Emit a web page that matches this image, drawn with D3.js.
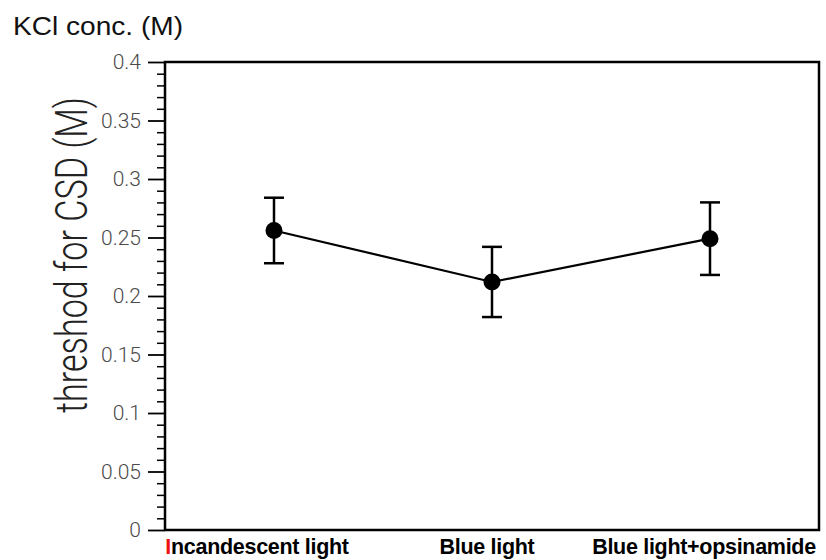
<!DOCTYPE html>
<html>
<head>
<meta charset="utf-8">
<script src="https://cdn.jsdelivr.net/npm/d3@7"></script>
<style>
  body { margin: 0; background: #fff; }
  svg { display: block; }
</style>
</head>
<body>
<div id="svganchor"></div>
<script>
let width = 826, height = 560;

let margin = ({top: 62, right: 7, bottom: 30, left: 165});

// data
let groups = ["Incandescent light", "Blue light", "Blue light+opsinamide"];
let means = [0.256, 0.212, 0.249];
let errors = [0.028, 0.030, 0.031];
let yTickValues = [0, 0.05, 0.1, 0.15, 0.2, 0.25, 0.3, 0.35, 0.4];

let dataSet = groups.map(function(g, i) {
    return {group: g, mean: means[i], err: errors[i]};
});

let xScale = d3.scalePoint()
    .domain(groups)
    .range([margin.left, width - margin.right])
    .padding(0.5);

let yScale = d3.scaleLinear()
    .domain([0, 0.4])
    .range([height - margin.bottom, margin.top]);

let svg = d3.select("#svganchor")
    .append("svg")
    .attr("width", width)
    .attr("height", height);

// minor ticks every 0.01
let minorTicks = d3.range(0, 41).map(function(i) { return i / 100; })
    .filter(function(v) { return Math.round(v * 100) % 5 !== 0; });

let yMinor = d3.axisLeft(yScale)
    .tickValues(minorTicks)
    .tickSize(8)
    .tickFormat("");

let yAxis = d3.axisLeft(yScale)
    .tickValues(yTickValues)
    .tickSizeInner(17)
    .tickSizeOuter(0)
    .tickPadding(7)
    .tickFormat(function(d) { return String(d); });

let gMinor = svg.append("g")
    .attr("transform", "translate(" + margin.left + ",0)")
    .call(yMinor);
gMinor.select(".domain").remove();
gMinor.selectAll(".tick line").attr("stroke", "#000").attr("stroke-width", 1.5);

let gY = svg.append("g")
    .attr("class", "y axis")
    .attr("transform", "translate(" + margin.left + ",0)")
    .call(yAxis);
gY.select(".domain").remove();
gY.selectAll(".tick line").attr("stroke", "#000").attr("stroke-width", 1.8);
gY.selectAll(".tick text")
    .attr("fill", "#4a4a4a")
    .style("font-family", "Roboto, 'Liberation Sans', sans-serif")
    .style("font-weight", 300)
    .style("font-size", "21px");

// plot frame
svg.append("rect")
    .attr("x", margin.left)
    .attr("y", margin.top)
    .attr("width", width - margin.right - margin.left)
    .attr("height", height - margin.bottom - margin.top)
    .attr("fill", "none")
    .attr("stroke", "#000")
    .attr("stroke-width", 2.5);

// connecting line
let line = d3.line()
    .x(function(d) { return xScale(d.group); })
    .y(function(d) { return yScale(d.mean); });

svg.append("path")
    .datum(dataSet)
    .attr("d", line)
    .attr("fill", "none")
    .attr("stroke", "#000")
    .attr("stroke-width", 2.2);

// error bars
let capHalf = 10;
let bars = svg.selectAll(".errBar")
    .data(dataSet)
    .enter()
    .append("g")
    .attr("class", "errBar")
    .attr("stroke", "#000")
    .attr("stroke-width", 2.5);

bars.append("line")
    .attr("x1", function(d) { return xScale(d.group); })
    .attr("x2", function(d) { return xScale(d.group); })
    .attr("y1", function(d) { return yScale(d.mean + d.err); })
    .attr("y2", function(d) { return yScale(d.mean - d.err); });

bars.append("line")
    .attr("x1", function(d) { return xScale(d.group) - capHalf; })
    .attr("x2", function(d) { return xScale(d.group) + capHalf; })
    .attr("y1", function(d) { return yScale(d.mean + d.err); })
    .attr("y2", function(d) { return yScale(d.mean + d.err); });

bars.append("line")
    .attr("x1", function(d) { return xScale(d.group) - capHalf; })
    .attr("x2", function(d) { return xScale(d.group) + capHalf; })
    .attr("y1", function(d) { return yScale(d.mean - d.err); })
    .attr("y2", function(d) { return yScale(d.mean - d.err); });

svg.selectAll(".dot")
    .data(dataSet)
    .enter()
    .append("circle")
    .attr("class", "dot")
    .attr("cx", function(d) { return xScale(d.group); })
    .attr("cy", function(d) { return yScale(d.mean); })
    .attr("r", 8.5)
    .attr("fill", "#000");

// category labels
let labelDx = [-17, -5, -6];
let xLabels = svg.selectAll(".xLabel")
    .data(groups)
    .enter()
    .append("text")
    .attr("class", "xLabel")
    .attr("x", function(d, i) { return xScale(d) + labelDx[i]; })
    .attr("y", 554)
    .attr("text-anchor", "middle")
    .style("font-family", "'Liberation Sans', Arial, sans-serif")
    .style("font-weight", "bold")
    .style("font-size", "21.5px")
    .style("letter-spacing", "-0.3px")
    .attr("fill", "#000");

xLabels.each(function(d, i) {
    let t = d3.select(this);
    if (i === 0) {
        t.append("tspan").attr("fill", "#ee1111").text(d.charAt(0));
        t.append("tspan").text(d.slice(1));
    } else {
        t.text(d);
    }
});

// y axis title
svg.append("text")
    .attr("transform", "translate(87," + 255 + ") rotate(-90)")
    .attr("text-anchor", "middle")
    .attr("textLength", 316)
    .attr("lengthAdjust", "spacingAndGlyphs")
    .style("font-family", "Roboto, 'DejaVu Sans', sans-serif")
    .style("font-weight", 300)
    .style("font-size", "45px")
    .attr("fill", "#222")
    .text("threshod for CSD (M)");

// top label
svg.append("text")
    .attr("x", 13)
    .attr("y", 35)
    .attr("textLength", 170)
    .attr("lengthAdjust", "spacingAndGlyphs")
    .style("font-family", "'Liberation Sans', Arial, sans-serif")
    .style("font-size", "25px")
    .attr("fill", "#111")
    .text("KCl conc. (M)");
</script>
</body>
</html>
